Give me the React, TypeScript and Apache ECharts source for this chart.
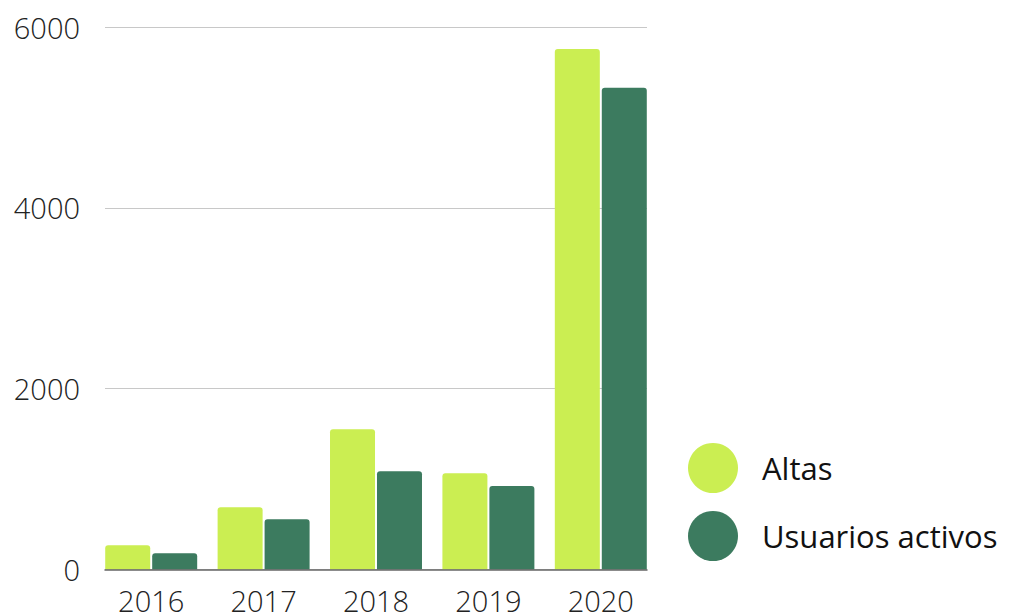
import React, { useEffect, useRef } from "react";
import * as echarts from "echarts";

const years = ["2016", "2017", "2018", "2019", "2020"];
const altas = [268, 688, 1550, 1064, 5756];
const usuarios = [179, 555, 1086, 923, 5329];
const yTicks = [0, 2000, 4000, 6000];

const FONT = "'Open Sans', 'Noto Sans', sans-serif";

export default function App() {
  const ref = useRef<HTMLDivElement>(null);
  useEffect(() => {
    const chart = echarts.init(ref.current!, null, { renderer: "svg" });
    const top = 27;
    const bottom = 46.5;
    chart.setOption({
      animation: false,
      backgroundColor: "#ffffff",
      legend: {
        orient: "vertical",
        left: 683,
        top: 438,
        icon: "circle",
        itemWidth: 50,
        itemHeight: 50,
        itemGap: 18,
        textStyle: {
          fontFamily: FONT,
          fontSize: 31,
          color: "#111",
          padding: [0, 0, 0, 19],
        },
        data: ["Altas", "Usuarios activos"],
      },
      grid: [
        { left: 95, right: 362, top, bottom },
        { left: 105, right: 372, top, bottom },
      ],
      xAxis: [
        {
          type: "category",
          gridIndex: 0,
          data: years,
          axisLine: { show: false },
          axisTick: { show: false },
          axisLabel: {
            fontFamily: FONT,
            fontWeight: 300,
            fontSize: 29,
            color: "#222",
            margin: 16,
          },
        },
        {
          type: "category",
          gridIndex: 1,
          data: years,
          axisLine: { show: true, lineStyle: { color: "#666", width: 1.5 } },
          axisTick: { show: false },
          axisLabel: { show: false },
          z: 10,
        },
      ],
      yAxis: [
        {
          type: "value",
          gridIndex: 0,
          min: 0,
          max: 6000,
          interval: 2000,
          show: false,
          splitLine: { show: false },
        },
        {
          type: "value",
          gridIndex: 1,
          min: yTicks[0],
          max: yTicks[yTicks.length - 1],
          interval: 2000,
          axisLine: { show: false },
          axisTick: { show: false },
          splitLine: { show: true, lineStyle: { color: "#c8c8c8", width: 1 } },
          axisLabel: {
            fontFamily: FONT,
            fontWeight: 300,
            fontSize: 29,
            color: "#222",
            margin: 25,
            formatter: (v: number) => String(v),
          },
        },
      ],
      series: [
        {
          name: "Altas",
          type: "bar",
          xAxisIndex: 0,
          yAxisIndex: 0,
          data: altas,
          barWidth: 45,
          barGap: "4.4%",
          itemStyle: { color: "#cbee52", borderRadius: [3, 3, 0, 0] },
          z: 5,
        },
        {
          name: "Usuarios activos",
          type: "bar",
          xAxisIndex: 0,
          yAxisIndex: 0,
          data: usuarios,
          barWidth: 45,
          barGap: "4.4%",
          itemStyle: { color: "#3c7b5f", borderRadius: [3, 3, 0, 0] },
          z: 5,
        },
      ],
    });
    return () => chart.dispose();
  }, []);
  return (
    <div
      ref={ref}
      style={{ position: "fixed", left: 0, top: 0, width: 1019, height: 616 }}
    />
  );
}
